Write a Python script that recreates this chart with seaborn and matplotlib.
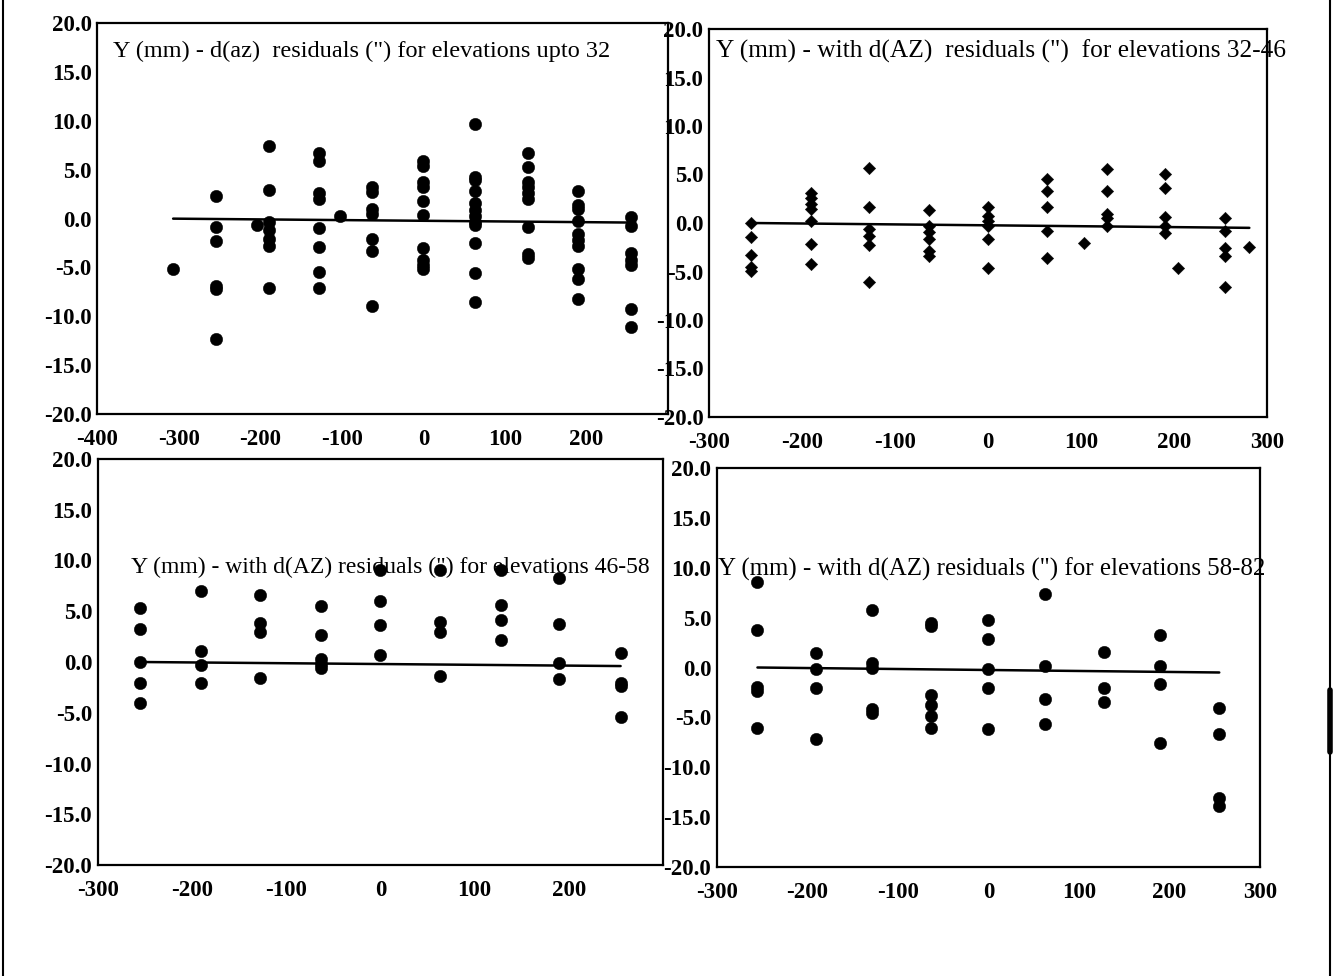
import numpy as np
import pandas as pd
import matplotlib
matplotlib.use("Agg")
import matplotlib.pyplot as plt
import seaborn as sns
from matplotlib.ticker import MultipleLocator, FuncFormatter
from matplotlib.lines import Line2D

# ---------------- data ----------------
# Panel 1: elevations up to 32  (circles)
p1_cols = [-307, -255, -204, -190, -128, -102, -63, 0, 63, 128, 190, 255]
p1_vals = [
    [-5.2],
    [2.3, -0.9, -2.3, -6.9, -7.2, -12.3],
    [-0.7],
    [7.4, 2.9, -0.3, -1.2, -2.1, -2.8, -7.1],
    [6.7, 5.9, 2.6, 2.0, -1.0, -2.9, -5.5, -7.1],
    [0.3],
    [3.2, 2.7, 0.95, 0.45, -2.1, -3.3, -8.9],
    [5.9, 5.4, 3.8, 3.2, 1.8, 0.4, -3.0, -4.2, -4.7, -5.2],
    [9.7, 4.3, 4.0, 2.8, 1.6, 0.9, 0.3, -0.3, -0.7, -2.45, -5.6, -8.5],
    [6.7, 5.3, 3.8, 3.2, 2.6, 2.0, -0.9, -3.6, -4.0],
    [2.8, 1.35, 1.0, -0.2, -1.6, -2.2, -2.8, -5.2, -6.2, -8.2],
    [0.2, -0.75, -3.5, -4.2, -4.7, -9.3, -11.1],
]
p1_fit_x = [-307, 255]
p1_fit_y = [0.0, -0.4]
p1_title = 'Y (mm) - d(az)  residuals (") for elevations upto 32'

# Panel 2: elevations 32-46  (diamonds)
p2_cols = [-255, -190, -128, -63, 0, 63, 103, 128, 190, 204, 255, 281]
p2_vals = [
    [0.0, -1.4, -3.3, -4.5, -4.9],
    [3.1, 2.6, 2.0, 1.4, 0.2, -2.2, -4.2],
    [5.7, 1.6, -0.6, -1.3, -2.3, -6.1],
    [1.35, -0.3, -0.95, -1.7, -2.9, -3.4],
    [1.7, 0.7, 0.2, -0.3, -1.7, -4.6],
    [4.5, 3.3, 1.7, -0.8, -3.6],
    [-2.1],
    [5.6, 3.3, 0.9, 0.5, -0.3],
    [5.1, 3.6, 0.6, -0.3, -1.05],
    [-4.6],
    [0.5, -0.8, -2.6, -3.4, -6.6],
    [-2.5],
]
p2_fit_x = [-255, 281]
p2_fit_y = [0.0, -0.5]
p2_title = 'Y (mm) - with d(AZ)  residuals (")  for elevations 32-46'

# Panel 3: elevations 46-58  (circles)
p3_cols = [-255, -190, -128, -63, 0, 63, 128, 190, 255]
p3_vals = [
    [5.35, 3.3, 0.0, -2.1, -4.0],
    [6.95, 1.05, -0.25, -2.05],
    [6.6, 3.85, 3.0, -1.6],
    [5.5, 2.7, 0.25, -0.15, -0.6],
    [9.1, 6.0, 3.6, 0.65],
    [9.1, 3.95, 2.95, -1.35],
    [9.1, 5.65, 4.1, 2.15],
    [8.3, 3.7, -0.1, -1.65],
    [0.9, -2.05, -2.4, -5.45],
]
p3_fit_x = [-255, 255]
p3_fit_y = [0.0, -0.4]
p3_title = 'Y (mm) - with d(AZ) residuals (") for elevations 46-58'

# Panel 4: elevations 58-82  (circles)
p4_cols = [-255, -190, -128, -63, 0, 63, 128, 190, 255]
p4_vals = [
    [8.55, 3.75, -2.0, -2.4, -6.1],
    [1.5, -0.2, -2.1, -7.2],
    [5.75, 0.45, -0.1, -4.2, -4.6],
    [4.45, 4.15, -2.8, -3.8, -4.9, -6.1],
    [4.75, 2.9, -0.15, -2.05, -6.2],
    [7.35, 0.15, -3.2, -5.65],
    [1.55, -2.05, -3.5],
    [3.25, 0.15, -1.65, -7.55],
    [-4.05, -6.7, -13.1, -13.9],
]
p4_fit_x = [-255, 255]
p4_fit_y = [0.0, -0.5]
p4_title = 'Y (mm) - with d(AZ) residuals (") for elevations 58-82'

# ---------------- figure ----------------
W, H, DPI = 1333, 976, 100
sns.set_theme(style="white")
plt.rcParams['font.family'] = ['Liberation Serif', 'DejaVu Serif']

fig = plt.figure(figsize=(W / DPI, H / DPI), dpi=DPI)
fig.patch.set_facecolor('white')


def to_frame(cols, vals):
    xs, ys = [], []
    for c, vs in zip(cols, vals):
        for v in vs:
            xs.append(c)
            ys.append(v)
    return pd.DataFrame({'x': xs, 'y': ys})


def add_ax(left, right, top, bottom):
    return fig.add_axes([left / W, 1 - bottom / H, (right - left) / W, (bottom - top) / H])


def style_ax(ax, xmin, xmax, yminor, hide_x=()):
    ax.set_xlim(xmin, xmax)
    ax.set_ylim(-20, 20)
    ax.set_facecolor('white')
    for sp in ax.spines.values():
        sp.set_visible(True)
        sp.set_color('black')
        sp.set_linewidth(1.6)
    ax.xaxis.set_major_locator(MultipleLocator(100))
    ax.xaxis.set_minor_locator(MultipleLocator(25))
    ax.yaxis.set_major_locator(MultipleLocator(5))
    ax.yaxis.set_minor_locator(MultipleLocator(yminor))
    ax.yaxis.set_major_formatter(FuncFormatter(lambda v, p: f"{v:.1f}"))
    ax.xaxis.set_major_formatter(
        FuncFormatter(lambda v, p: '' if int(round(v)) in hide_x else f"{int(round(v))}"))
    ax.tick_params(axis='both', which='major', direction='in', length=16, width=1.3,
                   color='black', labelsize=16.5, labelcolor='black')
    ax.tick_params(axis='both', which='minor', direction='in', length=7.5, width=1.3,
                   color='black')
    ax.tick_params(axis='x', which='major', pad=11)
    ax.tick_params(axis='y', which='major', pad=4)
    for lab in ax.get_xticklabels() + ax.get_yticklabels():
        lab.set_fontweight('bold')
    ax.set_xlabel('')
    ax.set_ylabel('')
    ax.grid(False)


panels = [
    # cols, vals, fit_x, fit_y, title, box(l, r, t, b), xlim, yminor, marker, size, hide, title pos, title size
    (p1_cols, p1_vals, p1_fit_x, p1_fit_y, p1_title, (97.3, 668, 23.3, 414), (-400, 300), 1.25, 'o', 80, (300,), (113, 51), 17.5),
    (p2_cols, p2_vals, p2_fit_x, p2_fit_y, p2_title, (709, 1267, 29, 417), (-300, 300), 2.5, 'D', 40, (), (716, 51), 18.3),
    (p3_cols, p3_vals, p3_fit_x, p3_fit_y, p3_title, (97.7, 663, 459, 865), (-300, 300), 2.5, 'o', 80, (300,), (131, 567), 17.0),
    (p4_cols, p4_vals, p4_fit_x, p4_fit_y, p4_title, (716.7, 1260, 468, 867), (-300, 300), 2.5, 'o', 80, (), (718, 569), 17.9),
]

for cols, vals, fx, fy, title, box, xl, yminor, mk, sz, hide, tpos, tsize in panels:
    ax = add_ax(*box)
    df = to_frame(cols, vals)
    sns.scatterplot(data=df, x='x', y='y', ax=ax, color='black', marker=mk, s=sz,
                    edgecolor='black', linewidth=0.3, legend=False, zorder=3)
    sns.lineplot(x=fx, y=fy, ax=ax, color='black', linewidth=1.8, sort=False,
                 estimator=None, legend=False, zorder=2)
    style_ax(ax, xl[0], xl[1], yminor, hide)
    fig.text(tpos[0] / W, 1 - tpos[1] / H, title, ha='left', va='center',
             fontsize=tsize, color='black', zorder=5)

# page border lines of the scanned sheet
fig.add_artist(Line2D([3 / W, 3 / W], [0, 1], color='black', linewidth=1.5))
fig.add_artist(Line2D([1330 / W, 1330 / W], [0, 1], color='black', linewidth=1.5))
fig.add_artist(Line2D([1330 / W, 1330 / W], [1 - 690 / H, 1 - 752 / H], color='black', linewidth=4))

fig.savefig('out.png', dpi=DPI, facecolor='white')
